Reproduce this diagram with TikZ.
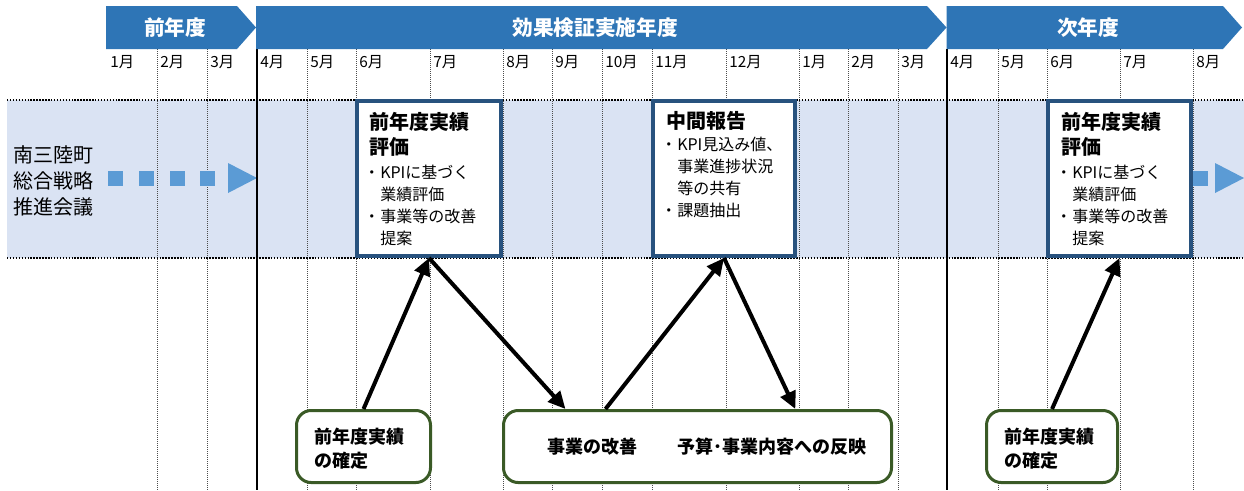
\documentclass[tikz,border=0pt]{standalone}
\usepackage{fontspec}
\setmainfont{Noto Sans CJK JP}
\usetikzlibrary{arrows.meta}
\definecolor{hdrblue}{HTML}{2E75B6}
\definecolor{bandblue}{HTML}{DAE3F3}
\definecolor{boxblue}{HTML}{28527E}
\definecolor{boxgreen}{HTML}{3A5A26}
\definecolor{dotblue}{HTML}{5B9BD5}
\newcommand{\bul}{\makebox[8.25pt][l]{\hspace{-4pt}・}}
\newcommand{\ind}{\hspace*{8.25pt}}
\begin{document}
\begin{tikzpicture}[x=0.75pt,y=-0.75pt,
 hdr/.style={fill=hdrblue,draw=none},
 hdrtxt/.style={text=white,font=\bfseries\fontsize{15.5}{18}\selectfont,inner sep=0},
 mon/.style={anchor=west,font=\fontsize{11.5}{13}\selectfont,inner sep=0},
 coldot/.style={draw=black!70,line width=0.75pt,dash pattern=on 0.75pt off 0.75pt},
 colsolid/.style={draw=black,line width=1.5pt},
 bandline/.style={draw=black,line width=1.1pt,dash pattern=on 1.1pt off 1.1pt},
 bluebox/.style={draw=boxblue,line width=3pt,fill=white,inner sep=0,minimum height=116.25pt},
 greenbox/.style={draw=boxgreen,line width=2.25pt,fill=white,rounded corners=11pt,inner sep=0,minimum height=54pt},
 ttl/.style={anchor=west,align=left,inner sep=0,font=\bfseries\fontsize{15}{18.75}\selectfont},
 body/.style={anchor=west,align=left,inner sep=0,font=\fontsize{12}{16.5}\selectfont},
 gtxt/.style={anchor=west,align=left,inner sep=0,font=\bfseries\fontsize{13.5}{18}\selectfont},
 lefttxt/.style={anchor=west,align=left,inner sep=0,font=\fontsize{15}{19.5}\selectfont},
 flow/.style={draw=black,line width=3pt,-{Triangle[length=13pt,width=12pt]}},
 sq/.style={fill=dotblue,draw=none}]
\useasboundingbox (0,0) rectangle (1244,490);
\fill[white] (0,0) rectangle (1244,490);
% band
\fill[bandblue] (7,100) rectangle (1244,258);
% column lines
\foreach \x in {157,207,307,356,430,503,552,602,652,726,799,848,898,998,1047,1120,1193}
  \draw[coldot] (\x,49) -- (\x,490);
\draw[bandline] (7,100) -- (1244,100);
\draw[bandline] (7,258) -- (1244,258);
% dotted arrows
\foreach \x in {108,139,170,200} \fill[sq] (\x,170.5) rectangle ++(15,15);
\fill[sq] (228,163) -- (257,178) -- (228,193) -- cycle;
\fill[sq] (1193,170.5) rectangle ++(15,15);
\fill[sq] (1215,163) -- (1244,178) -- (1215,193) -- cycle;
\foreach \x in {257,947} \draw[colsolid] (\x,49) -- (\x,490);
% headers
\fill[hdr] (106,6) -- (237,6) -- (256,27.5) -- (237,49) -- (106,49) -- cycle;
\fill[hdr] (256,6) -- (927,6) -- (946.5,27.5) -- (927,49) -- (256,49) -- cycle;
\fill[hdr] (946.5,6) -- (1223,6) -- (1242,27.5) -- (1223,49) -- (946.5,49) -- cycle;
\node[hdrtxt] (h1) at (175,27.5) {前年度};
\node[hdrtxt] (h2) at (595,27.5) {効果検証実施年度};
\node[hdrtxt] (h3) at (1088,27.5) {次年度};
% months
\foreach \x/\t in {110/1月,160/2月,210/3月,260/4月,310/5月,359/6月,433/7月,506/8月,555/9月,605/10月,655/11月,729/12月,802/1月,851/2月,901/3月,950/4月,1001/5月,1050/6月,1123/7月,1196/8月}
  \node[mon] (m\x) at (\x,62) {\t};
% left label
\node[lefttxt] (lbl) at (13,181) {南三陸町\\総合戦略\\推進会議};
% blue boxes
\node[bluebox,minimum width=108pt] (b1) at (429,178.5) {};
\node[bluebox,minimum width=106.5pt] (b2) at (724,178.5) {};
\node[bluebox,minimum width=107.25pt] (b3) at (1119.5,178.5) {};
\node[ttl] (t1) at (369,134.5) {前年度実績\\評価};
\node[body] (d1) at (369,205.5) {\bul KPIに基づく\\\ind 業績評価\\\bul 事業等の改善\\\ind 提案};
\node[ttl] (t2) at (666,121) {中間報告};
\node[body] (d2) at (666,177.5) {\bul KPI見込み値、\\\ind 事業進捗状況\\\ind 等の共有\\\bul 課題抽出};
\node[ttl] (t3) at (1061,134.5) {前年度実績\\評価};
\node[body] (d3) at (1061,205.5) {\bul KPIに基づく\\\ind 業績評価\\\bul 事業等の改善\\\ind 提案};
% green boxes
\node[greenbox,minimum width=100.5pt] (gA) at (363.5,446.5) {};
\node[greenbox,minimum width=291pt] (gB) at (697.5,446.5) {};
\node[greenbox,minimum width=98.25pt] (gC) at (1052,446.5) {};
\node[gtxt] (tA) at (314,449) {前年度実績\\の確定};
\node[gtxt] (tB) at (547,447) {事業の改善\hspace{30pt}予算･事業内容への反映};
\node[gtxt] (tC) at (1004,449) {前年度実績\\の確定};
% arrows
\draw[flow] (gA.north) -- (b1.south);
\draw[flow] (b1.south) -- ([xshift=47.6pt]gB.north west);
\draw[flow] ([xshift=77.6pt]gB.north west) -- (b2.south);
\draw[flow] (b2.south) -- ([xshift=220pt]gB.north west);
\draw[flow] (gC.north) -- (b3.south);
\end{tikzpicture}
\end{document}
